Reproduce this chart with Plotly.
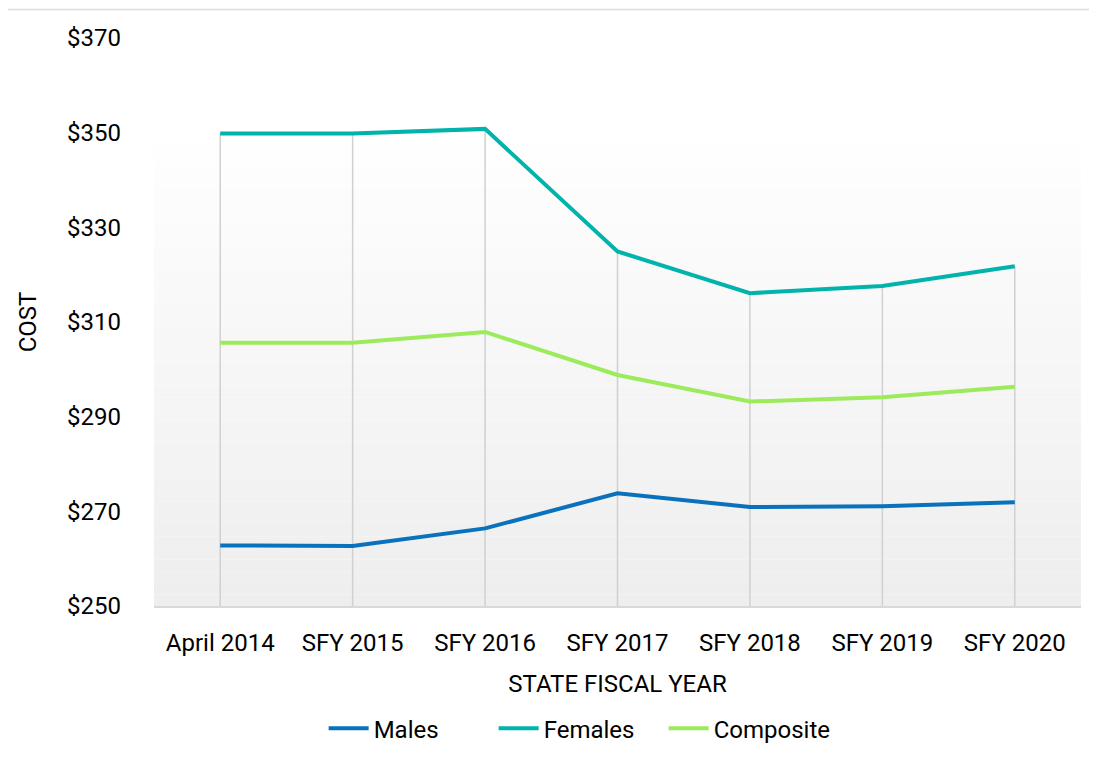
import plotly.graph_objects as go

years = ["April 2014", "SFY 2015", "SFY 2016", "SFY 2017", "SFY 2018", "SFY 2019", "SFY 2020"]
males = [262.8, 262.7, 266.4, 273.8, 270.9, 271.1, 271.9]
females = [349.8, 349.8, 350.8, 324.9, 316.1, 317.6, 321.8]
composite = [305.6, 305.6, 307.9, 298.8, 293.2, 294.1, 296.3]
y_ticks = [250, 270, 290, 310, 330, 350, 370]

FONT = "Roboto, 'DejaVu Sans Condensed', sans-serif"
FS = 24

fig = go.Figure()

series = [("Males", males, "#0a71bd"), ("Females", females, "#02b3ab"), ("Composite", composite, "#9ceb5c")]

# gradient background (stacked bands)
n = 40
top, bottom = 0.816, 0.0
for i in range(n):
    t = i / (n - 1)
    c0, c1 = 0xfe, 0xee
    v = int(round(c0 + (c1 - c0) * t))
    col = f"rgb({v},{v},{v})"
    y1 = top - (top - bottom) * i / n
    y0 = top - (top - bottom) * (i + 1) / n
    fig.add_shape(type="rect", xref="paper", yref="paper", x0=0, x1=1, y0=y0, y1=y1,
                  fillcolor=col, line=dict(width=0), layer="below")

# drop lines from the highest series point down to the axis
for i, yr in enumerate(years):
    hi = max(males[i], females[i], composite[i])
    fig.add_shape(type="line", xref="x", yref="y", x0=yr, x1=yr, y0=250, y1=hi,
                  line=dict(color="#d0d0d0", width=1.5), layer="below")

# top rule
fig.add_shape(type="line", xref="paper", yref="paper", x0=-0.16, x1=1.02, y0=1.05, y1=1.05,
              line=dict(color="#dddddd", width=1.5))

for name, vals, col in series:
    fig.add_trace(go.Scatter(x=years, y=vals, name=name, mode="lines",
                             line=dict(color=col, width=4)))

fig.update_layout(
    width=1089, height=755,
    margin=dict(l=146, r=16, t=30, b=155),
    paper_bgcolor="white", plot_bgcolor="rgba(0,0,0,0)",
    font=dict(family=FONT, size=FS, color="#000000"),
    showlegend=True,
    legend=dict(orientation="h", x=0.183, xanchor="left", y=-0.216, yanchor="middle",
                font=dict(size=FS), itemwidth=40, tracegroupgap=0, entrywidth=115),
    xaxis=dict(type="category", range=[-0.5, 6.5], showgrid=False, zeroline=False,
               showline=True, linecolor="#d9d9d9", linewidth=2,
               ticks="", tickfont=dict(size=FS), ticklabelstandoff=14,
               title=dict(text="STATE FISCAL YEAR", font=dict(size=FS), standoff=19)),
    yaxis=dict(range=[250, 370], tickvals=y_ticks, ticktext=[f"${v}" for v in y_ticks],
               showgrid=False, zeroline=False, showline=False, ticks="",
               ticklabelstandoff=32, tickfont=dict(size=FS),
               title=dict(text="COST", font=dict(size=FS), standoff=23)),
)

fig.write_html("out.html")
